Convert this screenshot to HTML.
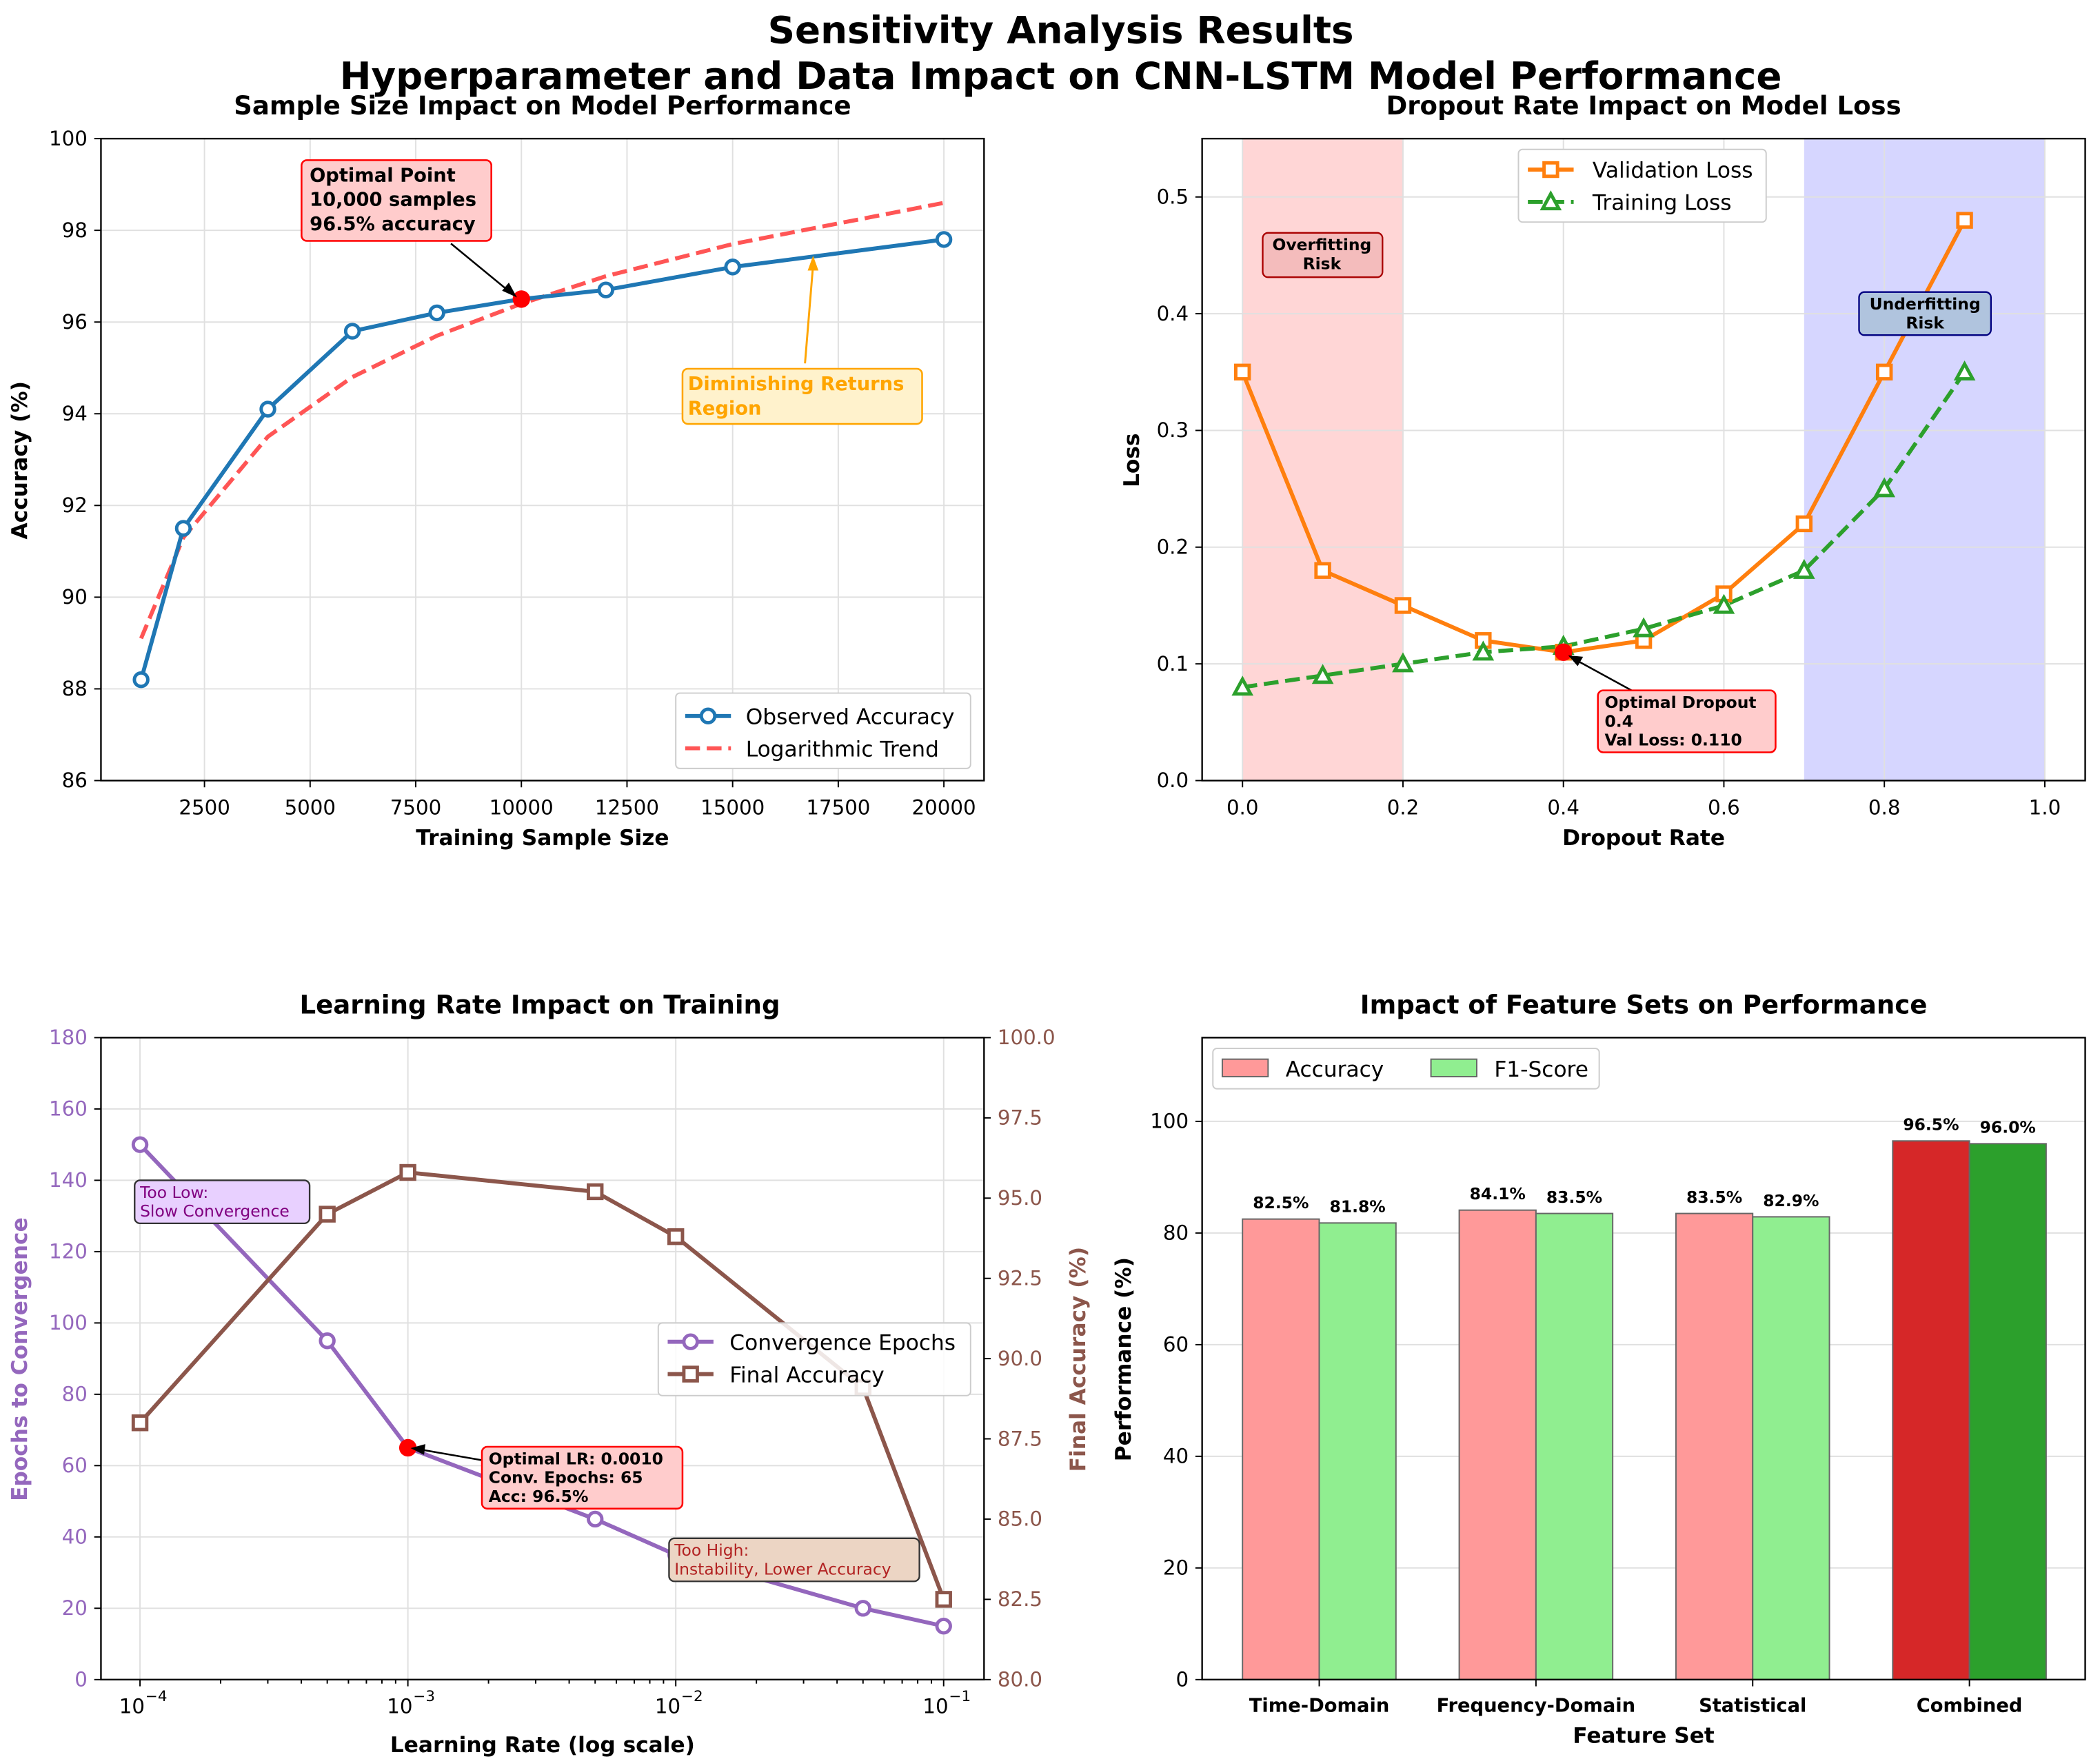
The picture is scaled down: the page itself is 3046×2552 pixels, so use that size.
<!DOCTYPE html>
<html><head><meta charset="utf-8"><style>
html,body{margin:0;padding:0;background:#fff}
svg{display:block;font-family:"DejaVu Sans","Liberation Sans",sans-serif}
</style></head><body>
<svg id="fig" width="3046" height="2552" viewBox="0 0 1560 1307" xmlns="http://www.w3.org/2000/svg">
<rect width="1560" height="1307" fill="#fff"/>
<text x="788" y="32" text-anchor="middle" font-size="28" font-weight="bold">Sensitivity Analysis Results</text>
<text x="788" y="66" text-anchor="middle" font-size="28" font-weight="bold">Hyperparameter and Data Impact on CNN-LSTM Model Performance</text>
</svg>
<script>
// ---- Panel 1 data
const p1Samples=[1000,2000,4000,6000,8000,10000,12000,15000,20000];
const p1Acc=[88.2,91.5,94.1,95.8,96.2,96.5,96.7,97.2,97.8];
const p1Trend=[89.1,91.3,93.5,94.8,95.7,96.4,97.0,97.7,98.6];
const p1XTicks=[2500,5000,7500,10000,12500,15000,17500,20000];
const p1YTicks=[86,88,90,92,94,96,98,100];
// ---- Panel 2 data
const p2Rates=[0,0.1,0.2,0.3,0.4,0.5,0.6,0.7,0.8,0.9];
const p2Val=[0.35,0.18,0.15,0.12,0.11,0.12,0.16,0.22,0.35,0.48];
const p2Train=[0.08,0.09,0.10,0.11,0.115,0.13,0.15,0.18,0.25,0.35];
const p2XTicks=[0,0.2,0.4,0.6,0.8,1.0];
const p2YTicks=[0,0.1,0.2,0.3,0.4,0.5];
// ---- Panel 3 data
const p3LR=[1e-4,5e-4,1e-3,5e-3,1e-2,5e-2,1e-1];
const p3Epochs=[150,95,65,45,35,20,15];
const p3Acc=[88,94.5,95.8,95.2,93.8,89.1,82.5];
const p3LeftTicks=[0,20,40,60,80,100,120,140,160,180];
const p3RightTicks=[80,82.5,85,87.5,90,92.5,95,97.5,100];
const p3XTicks=[-4,-3,-2,-1];
// ---- Panel 4 data
const p4Cats=["Time-Domain","Frequency-Domain","Statistical","Combined"];
const p4Acc=[82.5,84.1,83.5,96.5];
const p4F1=[81.8,83.5,82.9,96.0];
const p4YTicks=[0,20,40,60,80,100];

const NS="http://www.w3.org/2000/svg";
const svg=document.getElementById('fig');
function mk(tag,attrs,parent){const e=document.createElementNS(NS,tag);for(const k in attrs)e.setAttribute(k,attrs[k]);(parent||svg).appendChild(e);return e;}
function txt(x,y,s,attrs){const e=mk('text',Object.assign({x:x,y:y},attrs||{}));e.textContent=s;return e;}
function lin(d0,d1,r0,r1){return v=>r0+(v-d0)/(d1-d0)*(r1-r0);}
function pts(xs,ys,fx,fy){return xs.map((v,i)=>fx(v)+','+fy(ys[i])).join(' ');}
function multiText(x,y,lines,lh,attrs){lines.forEach((l,i)=>txt(x,y+i*lh,l,attrs));}

// ===== Panel 1 =====
{
const L=75,R=731,T=103,B=580;
const fx=lin(50,20950,L,R), fy=lin(86,100,B,T);
p1XTicks.forEach(v=>{const g=mk('line',{x1:fx(v),x2:fx(v),y1:T,y2:B,stroke:'#e0e0e0','stroke-width':1});

mk('line',{x1:fx(v),x2:fx(v),y1:B,y2:B+5,stroke:'#000'});
const t=txt(fx(v),B+25,String(v),{'text-anchor':'middle','font-size':15});
});
p1YTicks.forEach(v=>{mk('line',{x1:L,x2:R,y1:fy(v),y2:fy(v),stroke:'#e0e0e0'});
mk('line',{x1:L-5,x2:L,y1:fy(v),y2:fy(v),stroke:'#000'});
const t=txt(L-10,fy(v)+5,String(v),{'text-anchor':'end','font-size':15});
});
const tr=mk('polyline',{points:pts(p1Samples,p1Trend,fx,fy),fill:'none',stroke:'#ff5555','stroke-width':3,'stroke-dasharray':'11,5'});

const ob=mk('polyline',{points:pts(p1Samples,p1Acc,fx,fy),fill:'none',stroke:'#1f77b4','stroke-width':3});

p1Samples.forEach((v,i)=>{const c=mk('circle',{cx:fx(v),cy:fy(p1Acc[i]),r:5,fill:'#fff',stroke:'#1f77b4','stroke-width':2.5});
});
const od=mk('circle',{cx:fx(10000),cy:fy(96.5),r:6.5,fill:'red'});

mk('rect',{x:L,y:T,width:R-L,height:B-T,fill:'none',stroke:'#000','stroke-width':1.2});
const ta=txt(403,85,'Sample Size Impact on Model Performance',{'text-anchor':'middle','font-size':19,'font-weight':'bold'});

const xl=txt(403,628,'Training Sample Size',{'text-anchor':'middle','font-size':16,'font-weight':'bold'});

const yl=txt(20,342,'Accuracy (%)',{'text-anchor':'middle','font-size':16,'font-weight':'bold',transform:'rotate(-90 20 342)'});

// annotations
mk('line',{x1:335,y1:181,x2:380,y2:218,stroke:'#000','stroke-width':1.3});
mk('polygon',{points:'384,221 373,216 378,210',fill:'#000'});
const ab=mk('rect',{x:224,y:119,width:141,height:60,rx:4,fill:'#ffcccc',stroke:'red','stroke-width':1.3});

multiText(230,135,['Optimal Point','10,000 samples','96.5% accuracy'],18,{'font-size':14,'font-weight':'bold'});
mk('line',{x1:598,y1:270,x2:604,y2:197,stroke:'orange','stroke-width':1.5});
mk('polygon',{points:'604,190 600,201 608,201',fill:'orange'});
const db=mk('rect',{x:507,y:274,width:178,height:41,rx:4,fill:'#fff2cc',stroke:'orange','stroke-width':1.3});

multiText(511,290,['Diminishing Returns','Region'],18,{'font-size':14,'font-weight':'bold',fill:'orange'});
const lg=mk('rect',{x:502,y:515,width:219,height:56,rx:3,fill:'#fff',stroke:'#ccc'});

mk('line',{x1:509,x2:543,y1:532,y2:532,stroke:'#1f77b4','stroke-width':3});
mk('circle',{cx:526,cy:532,r:5,fill:'#fff',stroke:'#1f77b4','stroke-width':2.5});
const l1=txt(554,538,'Observed Accuracy',{'font-size':16});
mk('line',{x1:509,x2:543,y1:556,y2:556,stroke:'#ff5555','stroke-width':3,'stroke-dasharray':'11,5'});
const l2=txt(554,562,'Logarithmic Trend',{'font-size':16});
}

// ===== Panel 2 =====
{
const L=893,R=1549,T=103,B=580;
const fx=lin(0,1,923,1519), fy=lin(0,0.55,B,T);
const s1=mk('rect',{x:fx(0),y:T,width:fx(0.2)-fx(0),height:B-T,fill:'#ffd6d6'});

const s2=mk('rect',{x:fx(0.7),y:T,width:fx(1)-fx(0.7),height:B-T,fill:'#d6d6ff'});

p2XTicks.forEach(v=>{mk('line',{x1:fx(v),x2:fx(v),y1:T,y2:B,stroke:'#e0e0e0'});
mk('line',{x1:fx(v),x2:fx(v),y1:B,y2:B+5,stroke:'#000'});
const t=txt(fx(v),B+25,v.toFixed(1),{'text-anchor':'middle','font-size':15});
});
p2YTicks.forEach(v=>{mk('line',{x1:L,x2:R,y1:fy(v),y2:fy(v),stroke:'#e0e0e0'});
mk('line',{x1:L-5,x2:L,y1:fy(v),y2:fy(v),stroke:'#000'});
const t=txt(L-10,fy(v)+5,v.toFixed(1),{'text-anchor':'end','font-size':15});
});
const vl=mk('polyline',{points:pts(p2Rates,p2Val,fx,fy),fill:'none',stroke:'#ff7f0e','stroke-width':3});

const tl=mk('polyline',{points:pts(p2Rates,p2Train,fx,fy),fill:'none',stroke:'#2ca02c','stroke-width':3,'stroke-dasharray':'11,5'});

p2Rates.forEach((v,i)=>{const r=mk('rect',{x:fx(v)-5,y:fy(p2Val[i])-5,width:10,height:10,fill:'#fff',stroke:'#ff7f0e','stroke-width':2.5});

const x=fx(v),y=fy(p2Train[i]);
const p=mk('polygon',{points:`${x},${y-6} ${x-6},${y+5} ${x+6},${y+5}`,fill:'#fff',stroke:'#2ca02c','stroke-width':2.5});
});
const od=mk('circle',{cx:fx(0.4),cy:fy(0.11),r:6.5,fill:'red'});

mk('rect',{x:L,y:T,width:R-L,height:B-T,fill:'none',stroke:'#000','stroke-width':1.2});
const ta=txt(1221,85,'Dropout Rate Impact on Model Loss',{'text-anchor':'middle','font-size':19,'font-weight':'bold'});

const xl=txt(1221,628,'Dropout Rate',{'text-anchor':'middle','font-size':16,'font-weight':'bold'});

const yl=txt(846,342,'Loss',{'text-anchor':'middle','font-size':16,'font-weight':'bold',transform:'rotate(-90 846 342)'});

const ob=mk('rect',{x:938,y:173,width:89,height:33,rx:4,fill:'#f4bcbc',stroke:'#a00','stroke-width':1.2});

multiText(982,186,['Overfitting','Risk'],14,{'font-size':12,'font-weight':'bold','text-anchor':'middle'});
const ub=mk('rect',{x:1381,y:217,width:98,height:32,rx:4,fill:'#b0c4de',stroke:'#000080','stroke-width':1.2});

multiText(1430,230,['Underfitting','Risk'],14,{'font-size':12,'font-weight':'bold','text-anchor':'middle'});
mk('line',{x1:1212,y1:513,x2:1170,y2:490,stroke:'#000','stroke-width':1.3});
mk('polygon',{points:'1165,487 1176,488 1172,495',fill:'#000'});
const ab=mk('rect',{x:1187,y:513,width:132,height:46,rx:4,fill:'#ffcccc',stroke:'red','stroke-width':1.3});

multiText(1192,526,['Optimal Dropout','0.4','Val Loss: 0.110'],14,{'font-size':12,'font-weight':'bold'});
const lg=mk('rect',{x:1128,y:111,width:184,height:54,rx:3,fill:'#fff',stroke:'#ccc'});

mk('line',{x1:1135,x2:1169,y1:126,y2:126,stroke:'#ff7f0e','stroke-width':3});
mk('rect',{x:1147,y:121,width:10,height:10,fill:'#fff',stroke:'#ff7f0e','stroke-width':2.5});
const l1=txt(1183,132,'Validation Loss',{'font-size':16});
mk('line',{x1:1135,x2:1169,y1:150,y2:150,stroke:'#2ca02c','stroke-width':3,'stroke-dasharray':'11,5'});
mk('polygon',{points:'1152,144 1146,155 1158,155',fill:'#fff',stroke:'#2ca02c','stroke-width':2.5});
const l2=txt(1183,156,'Training Loss',{'font-size':16});
}

// ===== Panel 3 =====
{
const L=75,R=731,T=771,B=1248;
const fxl=lin(-4,-1,104,701), fx=v=>fxl(Math.log10(v));
const fy=lin(0,180,B,T), fyr=lin(80,100,B,T);
p3XTicks.forEach(e=>{mk('line',{x1:fxl(e),x2:fxl(e),y1:T,y2:B,stroke:'#e0e0e0'});
mk('line',{x1:fxl(e),x2:fxl(e),y1:B,y2:B+5,stroke:'#000'});
for(let k=2;k<10&&e<-1;k++){const xx=fxl(e+Math.log10(k));mk('line',{x1:xx,x2:xx,y1:B,y2:B+3,stroke:'#000'});}
const t=txt(fxl(e)-6,B+25,'10',{'text-anchor':'middle','font-size':15});

txt(fxl(e)+4,B+16,'\u2212'+(-e),{'font-size':11});});
p3LeftTicks.forEach(v=>{mk('line',{x1:L,x2:R,y1:fy(v),y2:fy(v),stroke:'#e0e0e0'});
mk('line',{x1:L-5,x2:L,y1:fy(v),y2:fy(v),stroke:'#000'});
const t=txt(L-10,fy(v)+5,String(v),{'text-anchor':'end','font-size':15,fill:'#9467bd'});
});
p3RightTicks.forEach(v=>{mk('line',{x1:R,x2:R+5,y1:fyr(v),y2:fyr(v),stroke:'#000'});
const t=txt(R+10,fyr(v)+5,v.toFixed(1),{'font-size':15,fill:'#8c564b'});
});
const el=mk('polyline',{points:pts(p3LR,p3Epochs,fx,fy),fill:'none',stroke:'#9467bd','stroke-width':3});

const al=mk('polyline',{points:pts(p3LR,p3Acc,fx,fyr),fill:'none',stroke:'#8c564b','stroke-width':3});

p3LR.forEach((v,i)=>{const c=mk('circle',{cx:fx(v),cy:fy(p3Epochs[i]),r:5,fill:'#fff',stroke:'#9467bd','stroke-width':2.5});

const r=mk('rect',{x:fx(v)-5,y:fyr(p3Acc[i])-5,width:10,height:10,fill:'#fff',stroke:'#8c564b','stroke-width':2.5});
});
const od=mk('circle',{cx:fx(1e-3),cy:fy(65),r:6.5,fill:'red'});

mk('rect',{x:L,y:T,width:R-L,height:B-T,fill:'none',stroke:'#000','stroke-width':1.2});
const ta=txt(401,753,'Learning Rate Impact on Training',{'text-anchor':'middle','font-size':19,'font-weight':'bold'});

const xl=txt(403,1302,'Learning Rate (log scale)',{'text-anchor':'middle','font-size':16,'font-weight':'bold'});

const yl=txt(20,1010,'Epochs to Convergence',{'text-anchor':'middle','font-size':16,'font-weight':'bold',fill:'#9467bd',transform:'rotate(-90 20 1010)'});

const yr=txt(806,1010,'Final Accuracy (%)',{'text-anchor':'middle','font-size':16,'font-weight':'bold',fill:'#8c564b',transform:'rotate(-90 806 1010)'});

const tb=mk('rect',{x:100,y:877,width:130,height:32,rx:4,fill:'#e8d0ff',stroke:'#333','stroke-width':1.2});

multiText(104,890,['Too Low:','Slow Convergence'],14,{'font-size':12,fill:'#800080'});
mk('line',{x1:358,y1:1085,x2:312,y2:1077,stroke:'#000','stroke-width':1.3});
mk('polygon',{points:'305,1076 316,1073 315,1081',fill:'#000'});
const ob=mk('rect',{x:358,y:1075,width:149,height:46,rx:4,fill:'#ffcccc',stroke:'red','stroke-width':1.3});

multiText(363,1088,['Optimal LR: 0.0010','Conv. Epochs: 65','Acc: 96.5%'],14,{'font-size':12,'font-weight':'bold'});
const hb=mk('rect',{x:497,y:1143,width:186,height:32,rx:4,fill:'#ecd5c4',stroke:'#333','stroke-width':1.2});

multiText(501,1156,['Too High:','Instability, Lower Accuracy'],14,{'font-size':12,fill:'#b22222'});
const lg=mk('rect',{x:489,y:983,width:232,height:54,rx:3,fill:'#fff','fill-opacity':0.85,stroke:'#ccc'});

mk('line',{x1:496,x2:530,y1:997,y2:997,stroke:'#9467bd','stroke-width':3});
mk('circle',{cx:513,cy:997,r:5,fill:'#fff',stroke:'#9467bd','stroke-width':2.5});
const l1=txt(542,1003,'Convergence Epochs',{'font-size':16});
mk('line',{x1:496,x2:530,y1:1021,y2:1021,stroke:'#8c564b','stroke-width':3});
mk('rect',{x:508,y:1016,width:10,height:10,fill:'#fff',stroke:'#8c564b','stroke-width':2.5});
const l2=txt(542,1027,'Final Accuracy',{'font-size':16});
}

// ===== Panel 4 =====
{
const L=893,R=1549,T=771,B=1248;
const fy=lin(0,115,B,T);
const cx=i=>980+i*161, bw=57;
p4YTicks.forEach(v=>{mk('line',{x1:L,x2:R,y1:fy(v),y2:fy(v),stroke:'#e0e0e0'});
mk('line',{x1:L-5,x2:L,y1:fy(v),y2:fy(v),stroke:'#000'});
const t=txt(L-10,fy(v)+5,String(v),{'text-anchor':'end','font-size':15});
});
p4Cats.forEach((c,i)=>{
const last=i===p4Cats.length-1;
const a=mk('rect',{x:cx(i)-bw,y:fy(p4Acc[i]),width:bw,height:B-fy(p4Acc[i]),fill:last?'#d62728':'#ff9999',stroke:'#666','stroke-width':1});

const f=mk('rect',{x:cx(i),y:fy(p4F1[i]),width:bw,height:B-fy(p4F1[i]),fill:last?'#2ca02c':'#90ee90',stroke:'#666','stroke-width':1});

const va=txt(cx(i)-bw/2,fy(p4Acc[i])-8,p4Acc[i].toFixed(1)+'%',{'text-anchor':'middle','font-size':12,'font-weight':'bold'});

const vf=txt(cx(i)+bw/2,fy(p4F1[i])-8,p4F1[i].toFixed(1)+'%',{'text-anchor':'middle','font-size':12,'font-weight':'bold'});

mk('line',{x1:cx(i),x2:cx(i),y1:B,y2:B+5,stroke:'#000'});
const t=txt(cx(i),B+24,c,{'text-anchor':'middle','font-size':14,'font-weight':'bold'});
});
mk('rect',{x:L,y:T,width:R-L,height:B-T,fill:'none',stroke:'#000','stroke-width':1.2});
const ta=txt(1221,753,'Impact of Feature Sets on Performance',{'text-anchor':'middle','font-size':19,'font-weight':'bold'});

const xl=txt(1221,1295,'Feature Set',{'text-anchor':'middle','font-size':16,'font-weight':'bold'});

const yl=txt(840,1010,'Performance (%)',{'text-anchor':'middle','font-size':16,'font-weight':'bold',transform:'rotate(-90 840 1010)'});

const lg=mk('rect',{x:901,y:779,width:287,height:30,rx:3,fill:'#fff',stroke:'#ccc'});

mk('rect',{x:908,y:787,width:34,height:13,fill:'#ff9999',stroke:'#666'});
const l1=txt(955,800,'Accuracy',{'font-size':16});
mk('rect',{x:1063,y:787,width:34,height:13,fill:'#90ee90',stroke:'#666'});
const l2=txt(1110,800,'F1-Score',{'font-size':16});
}
</script>
</body></html>
